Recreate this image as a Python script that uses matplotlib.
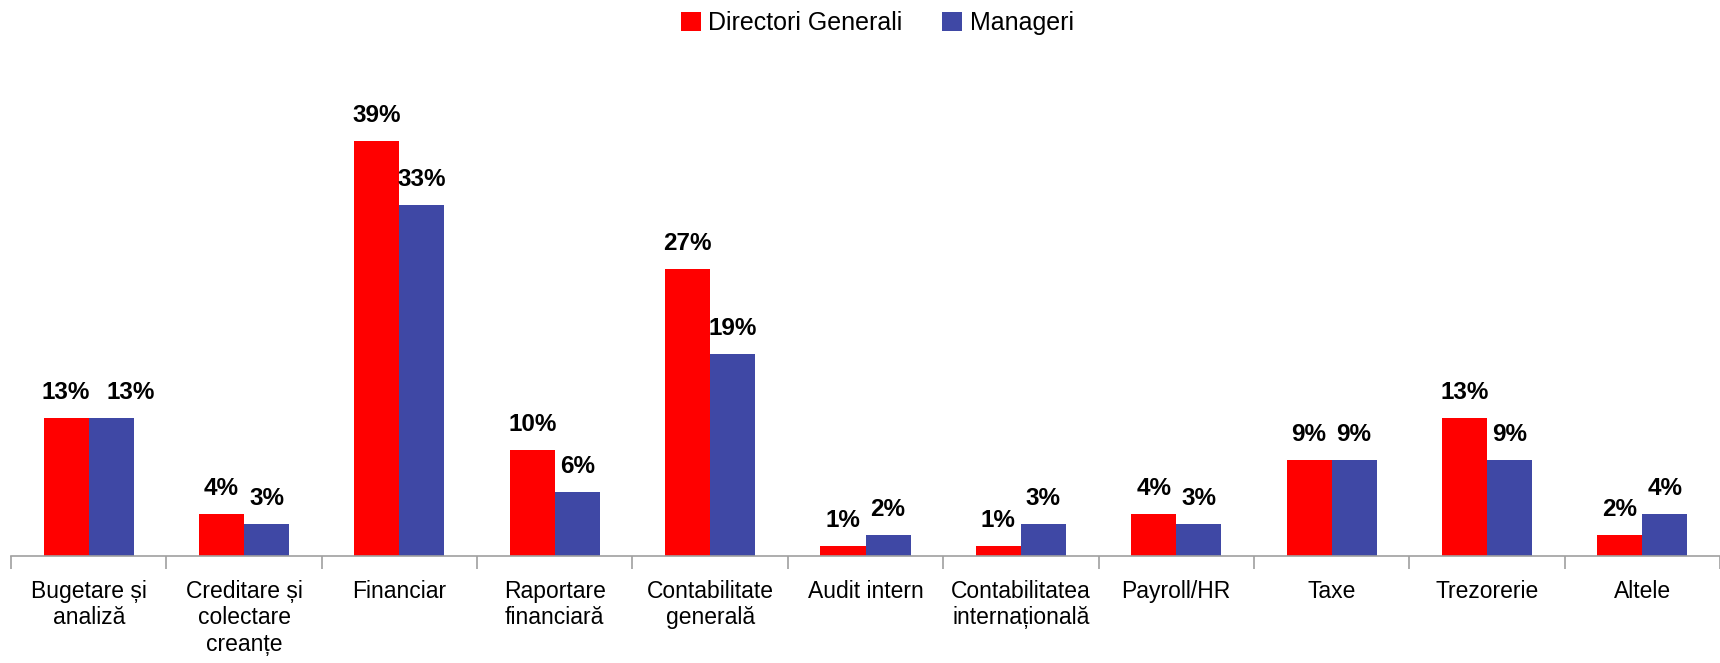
import numpy as np
import matplotlib.pyplot as plt
from matplotlib import font_manager

# Date grafic
categorii = ["Bugetare și\nanaliză", "Creditare și\ncolectare\ncreanțe", "Financiar",
             "Raportare\nfinanciară", "Contabilitate\ngenerală", "Audit intern",
             "Contabilitatea\ninternațională", "Payroll/HR", "Taxe", "Trezorerie", "Altele"]
directori = [13, 4, 39, 10, 27, 1, 1, 4, 9, 13, 2]
manageri = [13, 3, 33, 6, 19, 2, 3, 3, 9, 9, 4]
serii = ["Directori Generali", "Manageri"]

# font ingust daca exista
noms = {f.name for f in font_manager.fontManager.ttflist}
fam = "Liberation Sans Narrow" if "Liberation Sans Narrow" in noms else "Liberation Sans"
plt.rcParams['font.family'] = [fam, 'DejaVu Sans']

rosu = "#FF0000"
albastru = "#3F48A5"

fig = plt.figure(figsize=(17.2, 6.63), dpi=100)
ax = fig.add_axes([0.0064, 0.161, 0.9936, 0.749])

x = np.arange(len(categorii))
w = 0.29
b1 = ax.bar(x - w/2, directori, w, color=rosu, label=serii[0])
b2 = ax.bar(x + w/2, manageri, w, color=albastru, label=serii[1])

for k, (bars, vals) in enumerate(((b1, directori), (b2, manageri))):
    for i, (r, v) in enumerate(zip(bars, vals)):
        dx = 14 if (k == 1 and i == 0) else 0  # eticheta mutata ca in original
        ax.annotate(f"{v}%", (r.get_x() + r.get_width()/2, v), xytext=(dx, 10),
                    textcoords='offset points', ha='center', va='bottom',
                    fontsize=17.5, fontweight='bold')

ax.set_xlim(-0.5, len(categorii) - 0.5)
ax.set_ylim(0, 46.6)
ax.set_yticks([])
for s in ['top', 'right', 'left']:
    ax.spines[s].set_visible(False)
ax.spines['bottom'].set_color('#A0A0A0')
ax.spines['bottom'].set_linewidth(1.2)

ax.set_xticks(x)
ax.set_xticklabels(categorii, fontsize=16.5, linespacing=1.2)
ax.tick_params(axis='x', which='major', length=0, pad=17)
ax.set_xticks(np.arange(-0.5, len(categorii), 1), minor=True)
ax.tick_params(axis='x', which='minor', length=9, width=1.2, color='#A0A0A0', direction='out')

fig.legend(handles=[b1, b2], labels=serii, loc='center', bbox_to_anchor=(0.51, 0.965),
           ncol=2, frameon=False, fontsize=18, handlelength=0.8, handleheight=0.8,
           handletextpad=0.3, columnspacing=1.6)

fig.savefig("out.png", dpi=100)
